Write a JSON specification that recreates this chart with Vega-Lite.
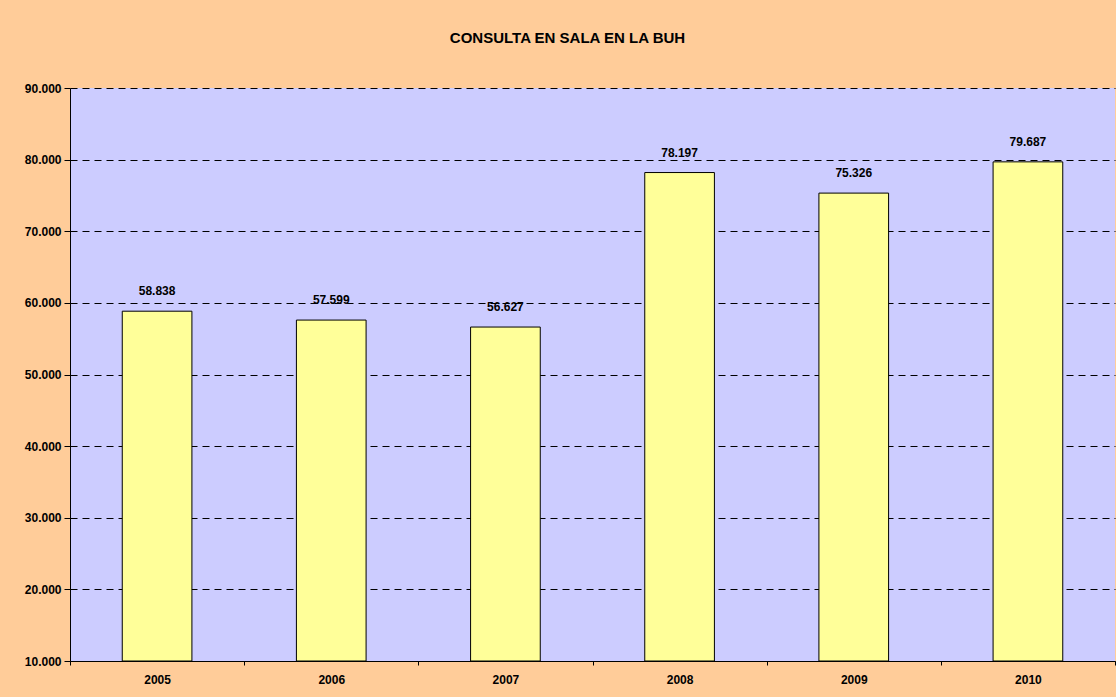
{
  "$schema": "https://vega.github.io/schema/vega-lite/v6.json",
  "autosize": {"type": "none"},
  "padding": {"left": 70, "top": 88, "right": 1, "bottom": 36},
  "width": 1045,
  "height": 573,
  "background": "#FFCC99",
  "title": {
    "text": "CONSULTA EN SALA EN LA BUH",
    "font": "Liberation Sans",
    "fontSize": 15,
    "fontWeight": "bold",
    "color": "#000000",
    "anchor": "middle",
    "frame": "group",
    "baseline": "alphabetic",
    "offset": 24,
    "dx": -25
  },
  "config": {
    "view": {"fill": "#CCCCFF", "stroke": null},
    "font": "Liberation Sans"
  },
  "data": {
    "values": [
      {"year": "2005", "value": 58838},
      {"year": "2006", "value": 57599},
      {"year": "2007", "value": 56627},
      {"year": "2008", "value": 78197},
      {"year": "2009", "value": 75326},
      {"year": "2010", "value": 79687}
    ]
  },
  "transform": [
    {"calculate": "replace(format(datum.value, ','), ',', '.')", "as": "label"}
  ],
  "encoding": {
    "x": {
      "field": "year",
      "type": "nominal",
      "sort": null,
      "scale": {"paddingInner": 0, "paddingOuter": 0},
      "axis": {
        "title": null,
        "labelAngle": 0,
        "tickBand": "extent",
        "ticks": true,
        "tickSize": 4,
        "tickWidth": 1,
        "tickColor": "#000000",
        "domainColor": "#000000",
        "domainWidth": 1,
        "labelFont": "Liberation Sans",
        "labelFontWeight": "bold",
        "labelFontSize": 12,
        "labelColor": "#000000",
        "labelPadding": 9,
        "grid": false
      }
    }
  },
  "layer": [
    {
      "mark": {"type": "bar", "fill": "#FFFF99", "stroke": "#000000", "strokeWidth": 1, "width": {"band": 0.4}},
      "encoding": {
        "y": {
          "field": "value",
          "type": "quantitative",
          "scale": {"domain": [10000, 90000], "zero": false, "nice": false},
          "axis": {
            "title": null,
            "values": [10000, 20000, 30000, 40000, 50000, 60000, 70000, 80000, 90000],
            "labelExpr": "replace(format(datum.value, ','), ',', '.')",
            "grid": true,
            "gridColor": "#000000",
            "gridDash": [7, 5],
            "gridWidth": 1,
            "tickSize": 6,
            "tickColor": "#000000",
            "domainColor": "#000000",
            "domainWidth": 1,
            "labelFont": "Liberation Sans",
            "labelFontWeight": "bold",
            "labelFontSize": 12,
            "labelColor": "#000000",
            "labelPadding": 3
          }
        },
        "y2": {"datum": 10000}
      }
    },
    {
      "mark": {
        "type": "text",
        "baseline": "alphabetic",
        "dy": -16,
        "font": "Liberation Sans",
        "fontWeight": "bold",
        "fontSize": 12,
        "color": "#000000"
      },
      "encoding": {
        "y": {"field": "value", "type": "quantitative"},
        "text": {"field": "label", "type": "nominal"}
      }
    }
  ]
}
